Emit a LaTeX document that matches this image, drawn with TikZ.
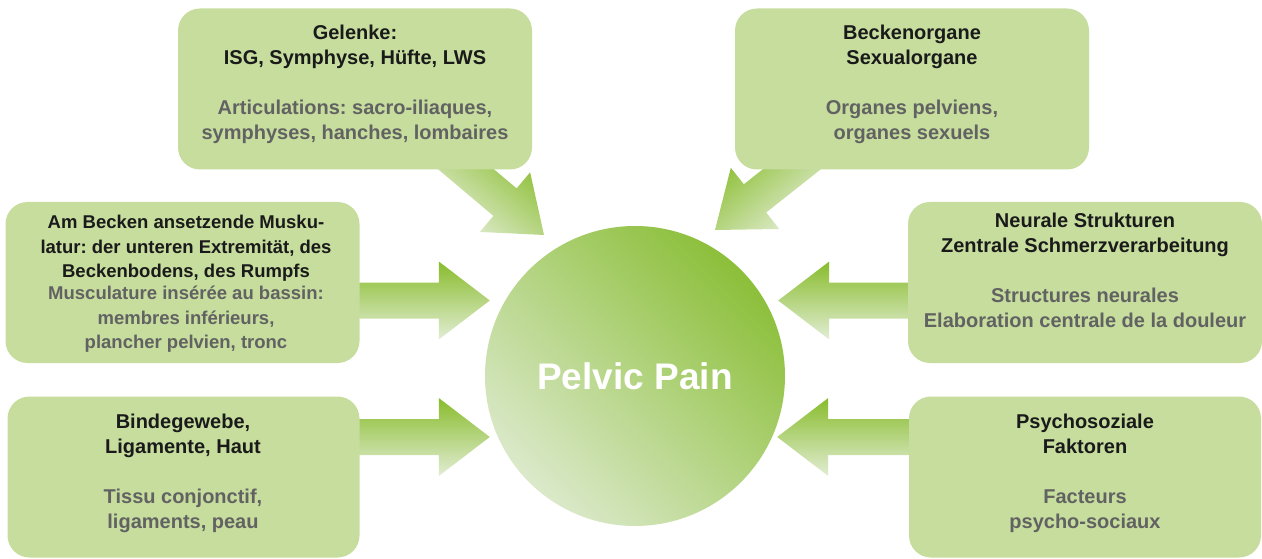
\documentclass[tikz,border=0pt]{standalone}
\usepackage{fontspec}
\setmainfont{Liberation Sans}
\usetikzlibrary{calc}
\pgfdeclarelayer{background}
\pgfsetlayers{background,main}
\frenchspacing
\definecolor{boxgreen}{RGB}{198,221,158}
\definecolor{arrowdark}{RGB}{136,188,44}
\definecolor{arrowlight}{RGB}{226,237,212}
\definecolor{circdark}{RGB}{140,191,58}
\definecolor{circlight}{RGB}{219,233,202}
\definecolor{detext}{RGB}{26,26,26}
\definecolor{frtext}{RGB}{98,98,98}
\newcommand{\fr}[1]{\textcolor{frtext}{#1}}
% block arrow from #1 to the tip #2, gradient turned by #3
\newcommand{\fatarrow}[3]{%
  \shade[arrowfill, shading angle=#3]
    let \p1=($(#2)-(#1)$), \n1={atan2(\y1,\x1)} in
    ($(#1)+({\n1+90}:18pt)$) -- ($(#2)+({\n1+180}:51pt)+({\n1+90}:18pt)$)
    -- ($(#2)+({\n1+180}:51pt)+({\n1+90}:39pt)$) -- (#2)
    -- ($(#2)+({\n1+180}:51pt)+({\n1-90}:39pt)$)
    -- ($(#2)+({\n1+180}:51pt)+({\n1-90}:18pt)$) -- ($(#1)+({\n1-90}:18pt)$) -- cycle;}

\begin{document}
\begin{tikzpicture}[x=1pt, y=1pt]
  \tikzset{box/.style={fill=boxgreen, rounded corners=22pt, inner sep=0pt,
      minimum width=354pt, minimum height=161pt},
    txt/.style={align=center, inner sep=0pt, text=detext,
      font=\fontsize{20}{25}\selectfont\bfseries},
    arrowfill/.style={shading=axis, top color=arrowdark, bottom color=arrowlight}}
  \useasboundingbox (0,0) rectangle (1262,-559);

  % centre
  \node[circle, minimum size=300pt, inner sep=0pt, shading=axis,
    top color=circdark, bottom color=circlight, shading angle=-45,
    text=white, font=\fontsize{37}{40}\selectfont\bfseries] (pain) at (635,-376) {Pelvic Pain};

  % boxes
  \node[box] (gel) at (355,-89) {};
  \node[box] (org) at (912,-89) {};
  \node[box] (mus) at (182.5,-282.5) {};
  \node[box] (neu) at (1085,-282.5) {};
  \node[box, minimum width=352pt] (bin) at (183.5,-477) {};
  \node[box, minimum width=352pt] (psy) at (1085,-477) {};

  % texts
  \node[txt] (gel-t) at (355,-84) {Gelenke:\\ISG, Symphyse, Hüfte, LWS\\[25pt]
    \fr{Articulations: sacro-iliaques,}\\\fr{symphyses, hanches, lombaires}};
  \node[txt] (org-t) at (912,-84) {Beckenorgane\\Sexualorgane\\[25pt]
    \fr{Organes pelviens,}\\\fr{organes sexuels}};
  \node[txt, font=\fontsize{18.5}{24.4}\selectfont\bfseries] (mus-t) at (186,-284) {Am Becken ansetzende Musku-\\latur: der unteren Extremität, des\\Beckenbodens, des Rumpfs\\[-2pt]
    \fr{Musculature insérée au bassin:}\\\fr{membres inférieurs,}\\\fr{plancher pelvien, tronc}};
  \node[txt] (neu-t) at (1085,-270) {Neurale Strukturen\\Zentrale Schmerzverarbeitung\\[25pt]
    \fr{Structures neurales}\\\fr{Elaboration centrale de la douleur}};
  \node[txt] (bin-t) at (183,-473) {Bindegewebe,\\Ligamente, Haut\\[25pt]
    \fr{Tissu conjonctif,}\\\fr{ligaments, peau}};
  \node[txt] (psy-t) at (1085,-473) {Psychosoziale\\Faktoren\\[25pt]
    \fr{Facteurs}\\\fr{psycho-sociaux}};

  % arrow ends
  \coordinate (gel-s) at ([shift={(-87pt,18pt)}]gel.south east);
  \coordinate (gel-e) at ($(pain.center)+(-91pt,141pt)$);
  \coordinate (org-s) at ([shift={(78pt,17pt)}]org.south west);
  \coordinate (org-e) at ($(pain.center)+(80pt,146pt)$);
  \coordinate (mus-s) at ([yshift=-18pt]mus.east);
  \coordinate (mus-e) at ($(pain.west |- mus-s)+(5pt,0)$);
  \coordinate (bin-s) at ([yshift=40pt]bin.east);
  \coordinate (bin-e) at ($(pain.west |- bin-s)+(5pt,0)$);
  \coordinate (neu-s) at ([yshift=-18pt]neu.west);
  \coordinate (neu-e) at ($(pain.east |- neu-s)+(-7pt,0)$);
  \coordinate (psy-s) at ([yshift=40pt]psy.west);
  \coordinate (psy-e) at ($(pain.east |- psy-s)+(-8pt,0)$);

  \begin{pgfonlayer}{background}
    \fatarrow{gel-s}{gel-e}{-40}
    \fatarrow{org-s}{org-e}{40}
    \fatarrow{mus-s}{mus-e}{0}
    \fatarrow{bin-s}{bin-e}{0}
    \fatarrow{neu-s}{neu-e}{0}
    \fatarrow{psy-s}{psy-e}{0}
  \end{pgfonlayer}
\end{tikzpicture}
\end{document}
